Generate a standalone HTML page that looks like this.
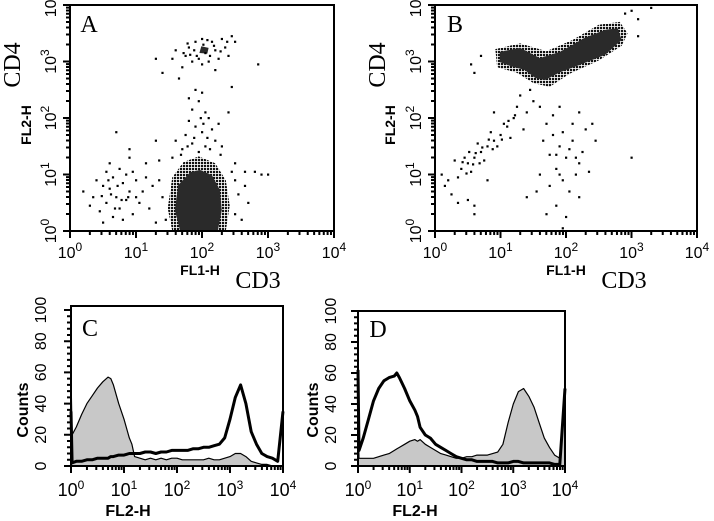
<!DOCTYPE html>
<html><head><meta charset="utf-8"><style>
html,body{margin:0;padding:0;background:#fff}
svg{display:block}
.tk{font-family:"Liberation Sans",sans-serif;font-size:16px;fill:#000}
.tkh{font-family:"Liberation Sans",sans-serif;font-size:18px;fill:#000}
.sup{font-size:12px}
.al{font-family:"Liberation Sans",sans-serif;font-size:14px;font-weight:bold;fill:#000}
.alh{font-family:"Liberation Sans",sans-serif;font-size:16px;font-weight:bold;fill:#000}
.sr{font-family:"Liberation Serif",serif;font-size:24px;fill:#000}
</style></head><body>
<svg id="fig" width="714" height="521" viewBox="0 0 714 521" xmlns="http://www.w3.org/2000/svg" xmlns:xlink="http://www.w3.org/1999/xlink">
<defs>
<pattern id="halo" width="3" height="3" patternUnits="userSpaceOnUse"><rect width="2.2" height="2.2" fill="#111"/></pattern>
<path id="xdec" d="M0 0V7 M0.301 0V4 M0.477 0V4 M0.602 0V4 M0.699 0V4 M0.778 0V4 M0.845 0V4 M0.903 0V4 M0.954 0V4" stroke="#000" stroke-width="2" fill="none" vector-effect="non-scaling-stroke"/>
<path id="ydec" d="M0 0H-7 M0 -0.301H-4 M0 -0.477H-4 M0 -0.602H-4 M0 -0.699H-4 M0 -0.778H-4 M0 -0.845H-4 M0 -0.903H-4 M0 -0.954H-4" stroke="#000" stroke-width="2" fill="none" vector-effect="non-scaling-stroke"/>
<path id="ycnt" d="M0 0H-7 M0 -4H-4 M0 -8H-4 M0 -12H-4 M0 -16H-4 M0 -20H-7 M0 -24H-4 M0 -28H-4 M0 -32H-4 M0 -36H-4 M0 -40H-7 M0 -44H-4 M0 -48H-4 M0 -52H-4 M0 -56H-4 M0 -60H-7 M0 -64H-4 M0 -68H-4 M0 -72H-4 M0 -76H-4 M0 -80H-7 M0 -84H-4 M0 -88H-4 M0 -92H-4 M0 -96H-4 M0 -100H-7" stroke="#000" stroke-width="2" fill="none" vector-effect="non-scaling-stroke"/>
</defs>
<g>
<g>
<use xlink:href="#xdec" href="#xdec" transform="translate(70 231) scale(66 1)"/>
<use xlink:href="#xdec" href="#xdec" transform="translate(136 231) scale(66 1)"/>
<use xlink:href="#xdec" href="#xdec" transform="translate(202 231) scale(66 1)"/>
<use xlink:href="#xdec" href="#xdec" transform="translate(268 231) scale(66 1)"/>
<rect x="333" y="231" width="2" height="7" fill="#000"/>
</g>
<g>
<use xlink:href="#ydec" href="#ydec" transform="translate(70 231) scale(1 56.5)"/>
<use xlink:href="#ydec" href="#ydec" transform="translate(70 174.5) scale(1 56.5)"/>
<use xlink:href="#ydec" href="#ydec" transform="translate(70 118) scale(1 56.5)"/>
<use xlink:href="#ydec" href="#ydec" transform="translate(70 61.5) scale(1 56.5)"/>
<rect x="63" y="4" width="7" height="2" fill="#000"/>
</g>
<g>
<use xlink:href="#xdec" href="#xdec" transform="translate(435 231) scale(65.5 1)"/>
<use xlink:href="#xdec" href="#xdec" transform="translate(500.5 231) scale(65.5 1)"/>
<use xlink:href="#xdec" href="#xdec" transform="translate(566 231) scale(65.5 1)"/>
<use xlink:href="#xdec" href="#xdec" transform="translate(631.5 231) scale(65.5 1)"/>
<rect x="696" y="231" width="2" height="7" fill="#000"/>
</g>
<g>
<use xlink:href="#ydec" href="#ydec" transform="translate(435 231) scale(1 56.5)"/>
<use xlink:href="#ydec" href="#ydec" transform="translate(435 174.5) scale(1 56.5)"/>
<use xlink:href="#ydec" href="#ydec" transform="translate(435 118) scale(1 56.5)"/>
<use xlink:href="#ydec" href="#ydec" transform="translate(435 61.5) scale(1 56.5)"/>
<rect x="428" y="4" width="7" height="2" fill="#000"/>
</g>
<g>
<use xlink:href="#xdec" href="#xdec" transform="translate(71 466) scale(53 1)"/>
<use xlink:href="#xdec" href="#xdec" transform="translate(124 466) scale(53 1)"/>
<use xlink:href="#xdec" href="#xdec" transform="translate(177 466) scale(53 1)"/>
<use xlink:href="#xdec" href="#xdec" transform="translate(230 466) scale(53 1)"/>
<rect x="282" y="466" width="2" height="7" fill="#000"/>
</g>
<g>
<use xlink:href="#ycnt" href="#ycnt" transform="translate(71 466) scale(1 1.56)"/>
</g>
<g>
<use xlink:href="#xdec" href="#xdec" transform="translate(358 466) scale(51.75 1)"/>
<use xlink:href="#xdec" href="#xdec" transform="translate(409.75 466) scale(51.75 1)"/>
<use xlink:href="#xdec" href="#xdec" transform="translate(461.5 466) scale(51.75 1)"/>
<use xlink:href="#xdec" href="#xdec" transform="translate(513.25 466) scale(51.75 1)"/>
<rect x="564" y="466" width="2" height="7" fill="#000"/>
</g>
<g>
<use xlink:href="#ycnt" href="#ycnt" transform="translate(358 466) scale(1 1.55)"/>
</g>
</g>
</svg>
<script>
// ---------- data (log10 units for FL axes, counts for histograms) ----------
const decadeTicks = [0,1,2,3,4];
const countTicks = [0,20,40,60,80,100];
const histX = [0,0.02,0.1,0.2,0.3,0.4,0.5,0.6,0.7,0.75,0.8,0.9,1.0,1.1,1.15,1.2,1.3,1.4,1.5,1.6,1.7,1.8,1.9,2.0,2.1,2.2,2.3,2.4,2.5,2.6,2.7,2.8,2.9,3.0,3.1,3.2,3.3,3.4,3.5,3.6,3.7,3.8,3.9,4.0];
// panel C
const cGray  = [58,20,25,33,40,45,50,54,57,56,52,40,30,18,14,6,5,4,5,4,5,4,5,5,4,4,4,4,4,5,4,4,5,6,8,8,6,3,2,1,1,0,0,0];
const cThick = [35,2,3,3,4,4,5,5,5,6,6,7,7,8,8,8,8,9,9,8,9,9,10,10,10,10,11,11,12,12,13,14,18,30,44,52,40,22,14,8,6,5,3,35];
// panel D
const dThick = [62,10,18,30,42,50,55,57,58,60,57,50,42,36,32,25,20,18,14,12,10,8,6,5,4,4,3,3,3,3,2,2,2,3,3,2,2,2,2,2,2,1,1,50];
const dGray  = [35,5,5,5,5,6,7,8,10,11,12,14,16,17,16,17,14,12,10,8,7,6,5,5,6,6,7,7,7,8,9,14,28,40,48,50,45,38,28,18,12,7,5,50];
// scatter A
const aBlob = [[1.67,0],[1.59,0.37],[1.64,0.81],[1.82,1.04],[1.97,1.08],[2.15,0.99],[2.27,0.73],[2.30,0.37],[2.24,0]];
const aHalo = [[1.55,0],[1.48,0.4],[1.55,0.95],[1.72,1.22],[1.95,1.32],[2.2,1.2],[2.36,0.9],[2.42,0.45],[2.36,0]];
const aTop  = [[1.96,3.15],[2.08,3.14],[2.1,3.24],[1.99,3.27]];
const aPts = [[1.75,3.1],[1.8,3.25],[1.85,3.0],[1.9,3.35],[1.95,3.05],[2.0,3.4],[2.05,3.15],[2.1,3.0],[2.15,3.35],[2.2,3.2],[2.25,3.05],[2.3,3.4],[2.35,3.25],[2.45,3.45],[2.5,3.35],[1.6,3.2],[1.55,3.05],[2.4,3.1],[1.7,2.9],[2.2,2.85],[1.3,3.05],[1.4,2.8],[2.85,2.95],[2.45,2.55],[1.65,2.7],
[1.88,3.2],[1.92,3.1],[2.02,3.3],[2.12,3.1],[2.18,3.28],[1.82,3.12],[2.28,3.18],[2.38,3.35],[1.72,3.15],[2.08,3.38],[2.0,2.95],[1.78,3.32],
[1.9,2.5],[2.0,2.45],[1.95,2.3],[1.85,2.15],[2.05,2.1],[2.1,2.0],[1.8,1.95],[1.9,1.85],[2.15,1.8],[2.0,1.75],[1.75,1.7],[2.2,1.6],[1.85,1.55],[2.05,1.5],[1.95,1.4],[2.3,1.5],[1.7,1.45],[2.25,1.9],[1.8,2.35],[2.4,2.1],[1.6,1.6],[1.55,1.3],[2.5,1.2],[2.65,1.05],[2.8,1.05],[2.9,1.0],[3.0,1.0],[1.35,1.25],[1.3,1.6],[1.15,1.2],
[1.98,2.0],[2.08,1.65],[1.88,1.65],[2.12,1.45],[1.78,1.5],[2.28,1.35],[1.68,1.35],[2.02,1.9],
[0.35,0.6],[0.45,0.35],[0.5,0.8],[0.55,0.5],[0.6,0.75],[0.65,0.95],[0.7,0.6],[0.75,0.4],[0.8,0.85],[0.85,0.55],[0.9,0.7],[0.95,0.3],[1.0,0.9],[1.05,0.5],[1.1,0.7],[0.6,1.2],[0.75,1.1],[0.9,1.3],[0.5,0.15],[0.8,0.2],[1.2,0.4],[1.25,0.8],[0.4,0.9],[0.65,0.25],[0.3,0.45],[0.2,0.7],[0.85,1.0],[1.3,0.15],[0.7,1.75],[0.9,1.45],[0.55,1.05],
[0.62,0.65],[0.72,0.8],[0.78,0.55],[0.58,0.9],[0.68,0.4],[0.88,0.6],[0.48,0.62],[1.0,0.6],[1.15,0.95],[0.95,1.05],
[1.4,0.6],[1.35,0.9],[1.45,0.2],[2.5,0.3],[2.55,0.65],[2.6,0.2],[2.7,0.5],[2.5,0.9],[2.65,0.8],[2.45,1.05]];
// scatter B
const bBlob = [[0.99,3.17],[1.30,3.24],[1.60,3.06],[1.91,3.17],[2.29,3.42],[2.60,3.56],[2.79,3.59],[2.85,3.38],[2.60,3.12],[2.21,2.94],[1.91,2.81],[1.68,2.67],[1.53,2.71],[1.37,2.85],[1.15,2.92],[0.99,2.99]];
const bHalo = [[0.92,3.22],[1.3,3.32],[1.7,3.18],[2.1,3.38],[2.5,3.65],[2.82,3.7],[2.94,3.5],[2.85,3.28],[2.5,3.02],[2.05,2.78],[1.75,2.55],[1.5,2.62],[1.25,2.8],[0.95,2.9]];
const bPts = [[0.7,3.1],[0.55,2.95],[0.6,2.8],[3.1,3.75],[3.0,3.9],[3.3,3.95],[2.9,3.85],[3.1,3.45],
[1.3,2.4],[1.5,2.3],[1.4,2.1],[1.2,2.0],[1.1,1.85],[1.0,1.7],[0.9,1.6],[0.8,1.5],[0.7,1.4],[0.6,1.3],[0.5,1.2],[0.4,1.1],[0.45,1.3],[0.65,1.55],[0.75,1.25],[0.85,1.75],[0.95,1.5],[1.05,1.9],[1.15,1.65],[1.25,2.2],[0.55,1.05],[0.35,0.95],[0.3,1.25],[0.2,0.9],[0.15,0.8],[0.25,0.65],[0.1,1.0],[0.5,0.55],[0.6,0.3],[0.6,0.45],[0.35,0.5],[0.8,0.9],[0.9,2.1],[1.35,1.8],[1.45,2.5],
[0.62,1.38],[0.72,1.48],[0.82,1.62],[0.58,1.18],[0.48,1.02],[0.68,1.2],[0.88,1.45],[1.02,1.62],[1.12,1.95],[1.22,2.05],[0.42,1.22],[0.52,1.4],
[1.7,1.9],[1.8,1.7],[1.9,1.5],[2.0,1.3],[2.1,1.6],[2.2,1.2],[1.85,1.1],[1.95,0.9],[2.05,0.7],[2.15,1.0],[2.25,1.4],[1.75,1.35],[1.65,1.6],[2.3,1.8],[2.4,1.9],[2.2,2.1],[2.1,1.9],[1.9,2.2],[1.8,2.05],[1.6,2.2],[2.35,1.05],[1.6,1.0],[1.55,0.7],[1.7,0.3],[1.85,0.45],[2.0,0.25],[2.2,0.6],[1.95,0.05],[1.4,0.6],[3.0,1.3],[2.45,1.6],[1.75,0.8],
[1.95,1.75],[2.05,1.45],[1.85,1.35],[2.15,1.3],[1.9,1.0]];

const svg = document.getElementById('fig');
const NS = 'http://www.w3.org/2000/svg';
function mk(tag, attrs, parent){const e=document.createElementNS(NS,tag);for(const k in attrs)e.setAttribute(k,attrs[k]);(parent||svg).appendChild(e);return e;}

function logText(g, x, y, exp, rotate, cls){
  const t = mk('text',{x:x,y:y,class:cls||'tk','text-anchor':'middle'},g);
  t.appendChild(document.createTextNode('10'));
  const s = mk('tspan',{class:'sup',dy:'-7'},t); s.textContent=String(exp);
  if(rotate) t.setAttribute('transform','rotate(-90 '+x+' '+y+')');
  return t;
}

function panel(cfg){
  const g = mk('g',{});
  
  
  const L=cfg.L,R=cfg.R,T=cfg.T,B=cfg.B;
  const sx = v => L + v/4*(R-L);
  const syLog = v => B - v/4*(B-T);
  cfg.sx=sx; cfg.sy = cfg.hist ? (v=>B-(v/100)*(B-cfg.Y100)) : syLog;
  const plot = mk('g',{},g);
  
  
  cfg.plot=plot;
  const frame = mk('rect',{x:L,y:T,width:R-L,height:B-T,fill:'none',stroke:'#000','stroke-width':2},g);
  
  
  const xcls = cfg.hist ? 'tkh' : 'tk';
  const xa = mk('g',{},g);
  
  
  decadeTicks.forEach(d=>{
    const lt = logText(xa, sx(d), cfg.xLabY, d, false, xcls);
    
    
  });
  const ya = mk('g',{},g);
  
  
  if(cfg.hist){
    countTicks.forEach(c=>{
      const y=cfg.sy(c);
      const t=mk('text',{x:cfg.yLabX,y:y,class:'tk','text-anchor':'middle',transform:'rotate(-90 '+cfg.yLabX+' '+y+')'},ya);
      t.textContent=String(c);
      
      
    });
  } else {
    decadeTicks.forEach(d=>{
      const y=syLog(d);
      const lt=logText(ya, cfg.yLabX, y, d, true, 'tk');
      
      
    });
  }
  return g;
}

function poly(cfg, pts, fill, name){
  const d = pts.map((p,i)=>(i?'L':'M')+cfg.sx(p[0]).toFixed(1)+' '+cfg.sy(p[1]).toFixed(1)).join(' ')+' Z';
  const p = mk('path',{d:d,fill:fill,stroke:'none'},cfg.plot);
  
  
}
function dots(cfg, pts){
  const g = mk('g',{fill:'#000'},cfg.plot);
  
  
  pts.forEach(p=>{
    const r = mk('rect',{x:(cfg.sx(p[0])-1).toFixed(1),y:(cfg.sy(p[1])-1).toFixed(1),width:2.2,height:2.2},g);
    
    
  });
}
function histPath(cfg, ys){
  return ys.map((v,i)=>(i?'L':'M')+cfg.sx(histX[i]).toFixed(1)+' '+cfg.sy(v).toFixed(1)).join(' ');
}
function hist(cfg, ys, fill, width, name){
  if(fill){
    const base = cfg.sy(0);
    const d = histPath(cfg, ys)+' L'+cfg.sx(4)+' '+base+' L'+cfg.sx(0)+' '+base+' Z';
    const f = mk('path',{d:d,fill:fill,stroke:'none'},cfg.plot);
    
    
  }
  const l = mk('path',{d:histPath(cfg, ys),fill:'none',stroke:'#000','stroke-width':width,'stroke-linejoin':'round'},cfg.plot);
  
  
}
function label(text, x, y, cls, rot, name){
  const t = mk('text',{x:x,y:y,class:cls,'text-anchor':'middle'});
  if(rot) t.setAttribute('transform','rotate(-90 '+x+' '+y+')');
  t.textContent=text;
  
  
}

// Panel A
const A = {name:'panel-a-scatter',L:70,R:334,T:5,B:231,xLabY:258,yLabX:56};
panel(A);
poly(A, aHalo, 'url(#halo)', 'cd3-positive-halo');
poly(A, aBlob, '#2a2a2a', 'cd3-positive-population');
poly(A, aTop, '#2a2a2a', 'cd4-positive-population');
dots(A, aPts);
label('A', 89, 32, 'sr', false, 'panel-label-a');
label('FL1-H', 200, 275, 'al', false, 'x-axis-title');
label('CD3', 258, 288, 'sr', false, 'x-marker-label');
label('FL2-H', 31, 125, 'al', true, 'y-axis-title');
label('CD4', 20, 65, 'sr', true, 'y-marker-label');

// Panel B
const Bp = {name:'panel-b-scatter',L:435,R:697,T:5,B:231,xLabY:258,yLabX:421};
panel(Bp);
poly(Bp, bHalo, 'url(#halo)', 'double-positive-halo');
poly(Bp, bBlob, '#2a2a2a', 'double-positive-population');
dots(Bp, bPts);
label('B', 455, 32, 'sr', false, 'panel-label-b');
label('FL1-H', 566, 275, 'al', false, 'x-axis-title');
label('CD3', 624, 288, 'sr', false, 'x-marker-label');
label('FL2-H', 395, 125, 'al', true, 'y-axis-title');
label('CD4', 385, 65, 'sr', true, 'y-marker-label');

// Panel C
const C = {name:'panel-c-histogram',hist:true,L:71,R:283,T:306,B:466,Y100:310,xLabY:496,yLabX:46};
panel(C);
hist(C, cGray, '#c8c8c8', 1.2, 'control-histogram');
hist(C, cThick, null, 3, 'sample-histogram');
label('C', 90, 336, 'sr', false, 'panel-label-c');
label('FL2-H', 128, 516, 'alh', false, 'x-axis-title');
label('Counts', 28, 410, 'alh', true, 'y-axis-title');

// Panel D
const D = {name:'panel-d-histogram',hist:true,L:358,R:565,T:311,B:466,Y100:311,xLabY:496,yLabX:336};
panel(D);
hist(D, dGray, '#c8c8c8', 1.2, 'control-histogram');
hist(D, dThick, null, 3, 'sample-histogram');
label('D', 378, 337, 'sr', false, 'panel-label-d');
label('FL2-H', 415, 516, 'alh', false, 'x-axis-title');
label('Counts', 318, 410, 'alh', true, 'y-axis-title');
</script>
</body></html>
